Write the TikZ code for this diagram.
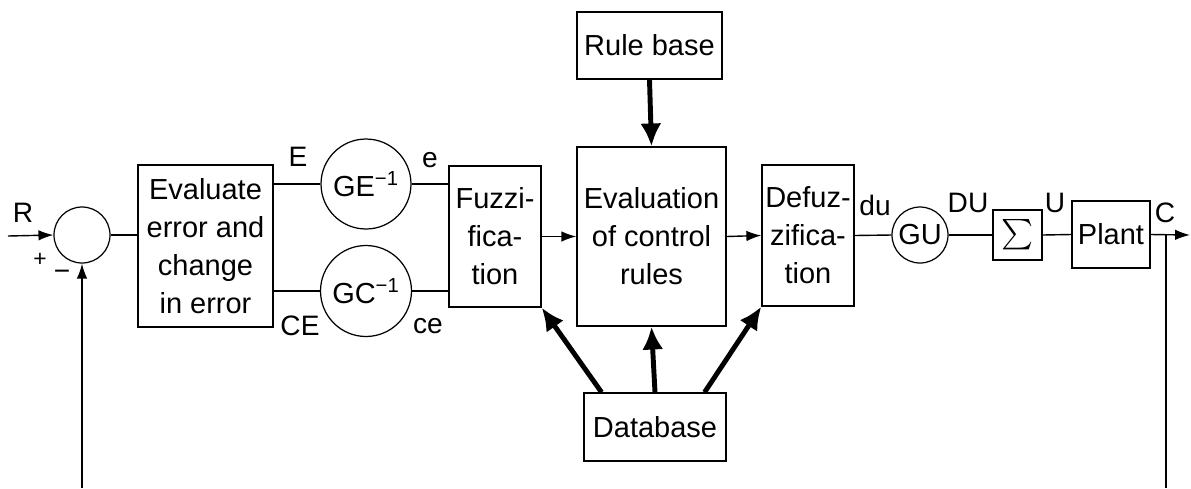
\documentclass[tikz,border=0pt]{standalone}
\usepackage{amsmath}
\usepackage{fontspec}
\setmainfont{Liberation Sans}
\usepackage{tikz}
\usetikzlibrary{arrows.meta}

\begin{document}
\begin{tikzpicture}[x=0.02cm,y=-0.02cm,
    box/.style={draw,line width=0.8pt,align=center,inner sep=0pt,font=\fontsize{16.5}{21.6}\selectfont},
    gain/.style={draw,circle,line width=0.7pt,inner sep=0pt,font=\fontsize{16.5}{20}\selectfont},
    lbl/.style={inner sep=0pt,font=\fontsize{16}{18}\selectfont},
    wire/.style={line width=0.8pt},
    thin/.style={line width=0.8pt,-{Latex[length=8.5pt,width=6pt]}},
    bold/.style={line width=2.8pt,-{Latex[length=13pt,width=12pt]}}]
    \useasboundingbox (0,0) rectangle (1191,488);
    \node[gain,minimum size=1.12cm] (Sum) at (82,235){};
    \node[box,minimum width=2.7cm,minimum height=3.24cm] (Err) at (205.5,246){Evaluate\\error and\\change\\in error};
    \node[gain,minimum size=1.8cm] (GE) at (366,184){GE\textsuperscript{−1}};
    \node[gain,minimum size=1.82cm] (GC) at (366,291){GC\textsuperscript{−1}};
    \node[box,minimum width=1.84cm,minimum height=2.82cm] (Fuzz) at (495,236.5){Fuzzi-\\fica-\\tion};
    \node[box,minimum width=2.9cm,minimum height=1.34cm] (Rule) at (649.5,45.5){Rule base};
    \node[box,minimum width=2.98cm,minimum height=3.58cm] (Rules) at (651.5,236.5){Evaluation\\of control\\rules};
    \node[box,minimum width=1.84cm,minimum height=2.82cm] (Defuz) at (808,235.5){Defuz-\\zifica-\\tion};
    \node[box,minimum width=2.84cm,minimum height=1.36cm] (Data) at (655,427){Database};
    \node[gain,minimum size=1.12cm] (GU) at (920,235){GU};
    \node[box,minimum width=0.98cm,minimum height=1cm,font=\fontsize{18}{20}\selectfont] (Sig) at (1017.5,235){$\sum$};
    \node[box,minimum width=1.56cm,minimum height=1.34cm] (Plant) at (1111,234.5){Plant};

    \node[lbl] (LR) at (23,213){R};
    \node[lbl,font=\fontsize{13}{14}\selectfont] (LP) at (40,260){+};
    \node[lbl] (LM) at (62,275){−};
    \node[lbl] (LE) at (298,157){E};
    \node[lbl] (Le) at (430,160){e};
    \node[lbl] (LCE) at (300,326){CE};
    \node[lbl] (Lce) at (428,326){ce};
    \node[lbl] (Ldu) at (875,205){du};
    \node[lbl] (LDU) at (968,203){DU};
    \node[lbl] (LU) at (1055,203){U};
    \node[lbl] (LC) at (1165,213){C};

    \coordinate (In) at (8,236);
    \coordinate (Out) at (1190,235);
    \coordinate (Tap) at (1166,235);
    \coordinate (FbR) at (1166,488);
    \coordinate (FbL) at (82,488);

    \draw[thin] (In) -- (Sum.west);
    \draw[wire] (Sum.east) -- (Sum.east -| Err.west);
    \draw[wire] (GE.west -| Err.east) -- (GE.west);
    \draw[wire] (GC.west -| Err.east) -- (GC.west);
    \draw[wire] (GE.east) -- (GE.east -| Fuzz.west);
    \draw[wire] (GC.east) -- (GC.east -| Fuzz.west);
    \draw[thin] (Fuzz.east) -- (Rules.west);
    \draw[thin] (Rules.east) -- (Defuz.west);
    \draw[wire] (Defuz.east) -- (GU.west);
    \draw[wire] (GU.east) -- (Sig.west);
    \draw[wire] (Sig.east) -- (Plant.west);
    \draw[thin] (Plant.east) -- (Out);
    \draw[wire] (Tap) -- (FbR);
    \draw[thin] (FbL) -- (Sum.south);

    \draw[bold] (Rule.south) -- (Rules.north);
    \draw[bold] (Data.147) -- (Fuzz.south east);
    \draw[bold] (Data.north) -- (Rules.south);
    \draw[bold] (Data.35) -- (Defuz.south west);

\end{tikzpicture}
\end{document}
